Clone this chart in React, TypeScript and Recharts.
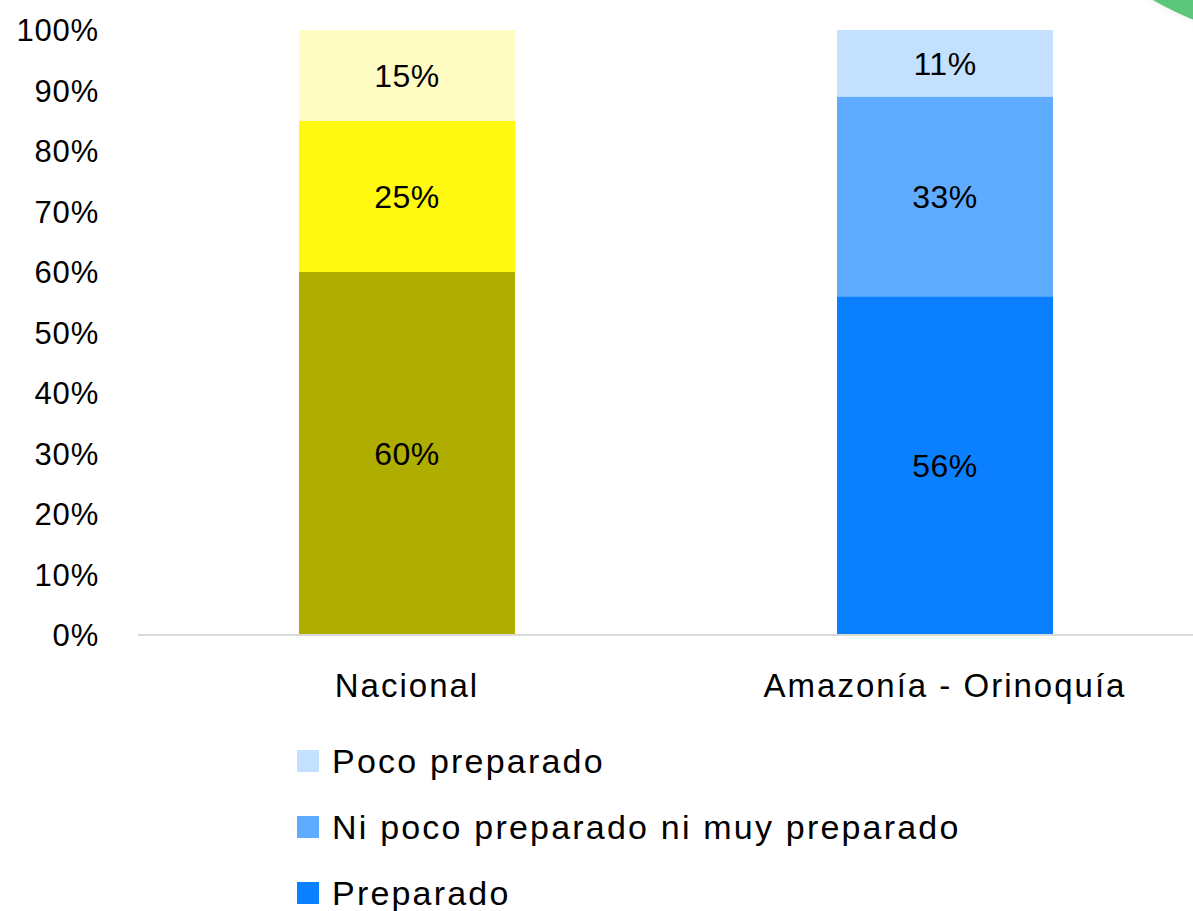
import React from 'react';
import { BarChart, Bar, XAxis, YAxis, Cell, LabelList, Legend } from 'recharts';

const categories = ['Nacional', 'Amazonía - Orinoquía'];
const preparado = [60, 56];
const niPocoNiMuy = [25, 33];
const pocoPreparado = [15, 11];
const yTicks = [0, 10, 20, 30, 40, 50, 60, 70, 80, 90, 100];
const seriesNames = ['Poco preparado', 'Ni poco preparado ni muy preparado', 'Preparado'];

// each category carries its own shade set (olive/yellow for Nacional, blues for the region)
const palettes = {
  preparado: ['#afad00', '#0a80ff'],
  niPocoNiMuy: ['#fff90f', '#5eabff'],
  pocoPreparado: ['#fffcc4', '#c4e0ff'],
};
const legendColors = ['#c4e0ff', '#5eabff', '#0a80ff'];

const data = categories.map((name, i) => ({
  name,
  preparado: preparado[i],
  niPocoNiMuy: niPocoNiMuy[i],
  pocoPreparado: pocoPreparado[i],
}));

const FONT = '"Liberation Sans", Arial, sans-serif';

const LegendBox = () => (
  <div style={{ height: 190, fontFamily: FONT }}>
    {seriesNames.map((s, i) => (
      <div key={s} style={{ display: 'flex', alignItems: 'center', height: 66 }}>
        <div style={{ width: 22, height: 22, background: legendColors[i], marginRight: 13 }} />
        <span style={{ fontSize: 34, color: '#000', letterSpacing: 2.2 }}>{s}</span>
      </div>
    ))}
  </div>
);

const keys: (keyof typeof palettes)[] = ['preparado', 'niPocoNiMuy', 'pocoPreparado'];

export default function App() {
  return (
    <div style={{ position: 'fixed', left: 0, top: 0, width: 1193, height: 911, overflow: 'hidden', background: '#fff' }}>
      <div
        style={{
          position: 'absolute',
          left: 1010,
          top: -540,
          width: 580,
          height: 580,
          borderRadius: '50%',
          background: '#5cc77a',
          boxShadow: '0 0 8px rgba(0,0,0,0.08)',
        }}
      />
      <BarChart
        width={1214}
        height={911}
        data={data}
        margin={{ top: 30, right: 0, left: 0, bottom: 0 }}
        barCategoryGap="20%"
      >
        <YAxis
          type="number"
          domain={[0, 100]}
          ticks={yTicks}
          width={138}
          axisLine={false}
          tickLine={false}
          tickMargin={33}
          tickFormatter={(v) => `${v}%`}
          tick={{ fontSize: 31, fill: '#000', fontFamily: FONT, letterSpacing: 0.8 }}
        />
        <XAxis
          dataKey="name"
          height={86}
          axisLine={{ stroke: '#d9d9d9', strokeWidth: 2 }}
          tickLine={false}
          tickMargin={33}
          tick={{ fontSize: 33, fill: '#000', fontFamily: FONT, letterSpacing: 2 }}
        />
        <Legend
          layout="vertical"
          verticalAlign="bottom"
          content={() => <LegendBox />}
          wrapperStyle={{ left: 297, top: 728, width: 800 }}
        />
        {keys.map((k) => (
          <Bar key={k} dataKey={k} stackId="a" isAnimationActive={false} barSize={216}>
            {data.map((d, i) => (
              <Cell key={d.name} fill={palettes[k][i]} />
            ))}
            <LabelList
              dataKey={k}
              position="center"
              formatter={(v: number) => `${v}%`}
              style={{ fontSize: 32, fill: '#000', fontFamily: FONT, letterSpacing: 0.5 }}
            />
          </Bar>
        ))}
      </BarChart>
    </div>
  );
}
